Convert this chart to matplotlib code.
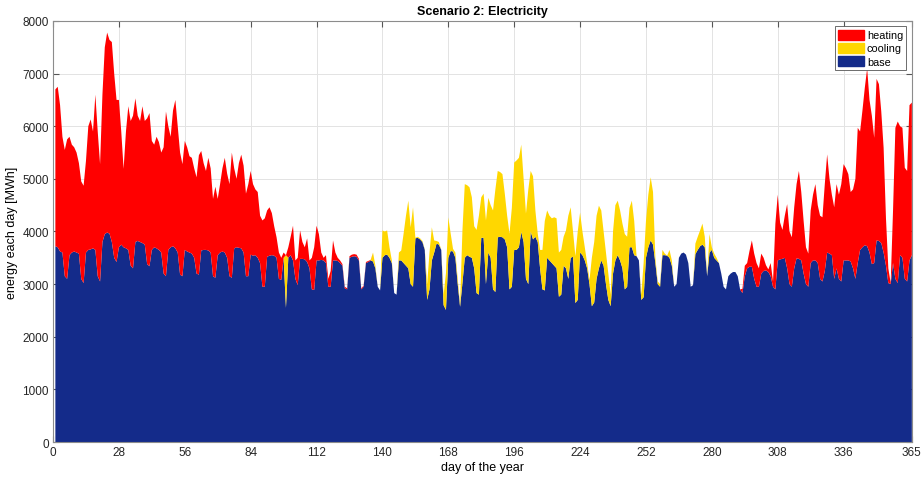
import numpy as np
import matplotlib
matplotlib.use("Agg")
import matplotlib.pyplot as plt
from matplotlib.patches import Patch

plt.rcParams['font.family'] = ['Liberation Sans', 'DejaVu Sans']

# daily base demand [MWh], one row per week (days 1..364), then day 365
base_weeks = [
    [3720, 3700, 3620, 3600, 3150, 3100, 3550],
    [3600, 3620, 3600, 3580, 3100, 3020, 3600],
    [3650, 3660, 3680, 3650, 3150, 3050, 3800],
    [3950, 3980, 3960, 3800, 3500, 3420, 3700],
    [3750, 3700, 3680, 3650, 3350, 3300, 3800],
    [3820, 3800, 3780, 3750, 3380, 3340, 3650],
    [3700, 3680, 3650, 3600, 3200, 3150, 3650],
    [3700, 3720, 3680, 3600, 3180, 3150, 3650],
    [3620, 3600, 3580, 3500, 3200, 3180, 3640],
    [3650, 3650, 3640, 3600, 3150, 3120, 3550],
    [3600, 3620, 3600, 3500, 3150, 3120, 3680],
    [3700, 3690, 3680, 3600, 3150, 3150, 3560],
    [3540, 3550, 3500, 3400, 2950, 2950, 3520],
    [3540, 3550, 3540, 3500, 3100, 3080, 3500],
    [2550, 3500, 3550, 3450, 3100, 2980, 3480],
    [3480, 3470, 3420, 3300, 2900, 2890, 3450],
    [3450, 3460, 3450, 3400, 2950, 2950, 3450],
    [3450, 3440, 3400, 3350, 2920, 2900, 3500],
    [3520, 3530, 3520, 3450, 2900, 2950, 3400],
    [3420, 3450, 3430, 3300, 2950, 2880, 3500],
    [3550, 3560, 3500, 3400, 2830, 2800, 3450],
    [3450, 3400, 3350, 3300, 3000, 2950, 3870],
    [3880, 3850, 3800, 3650, 2700, 2900, 3450],
    [3600, 3770, 3750, 3650, 2600, 2510, 3500],
    [3630, 3620, 3500, 3000, 2570, 3020, 3500],
    [3550, 3520, 3500, 3300, 2830, 2800, 3880],
    [3880, 3000, 3600, 3500, 2900, 2850, 3890],
    [3900, 3890, 3850, 3700, 2900, 2950, 3650],
    [3650, 3700, 3990, 3800, 3100, 3000, 4000],
    [3850, 3900, 3800, 3300, 2900, 2880, 3500],
    [3450, 3400, 3350, 3300, 2760, 2800, 3350],
    [3300, 3100, 3500, 3520, 2640, 2700, 3600],
    [3550, 3450, 3300, 3000, 2580, 2650, 3100],
    [3300, 3450, 3350, 3000, 2700, 2580, 3200],
    [3450, 3550, 3450, 3300, 2900, 2950, 3700],
    [3700, 3550, 3530, 3450, 2700, 2750, 3500],
    [3700, 3830, 3750, 3400, 3000, 2950, 3550],
    [3550, 3540, 3500, 3350, 2950, 3000, 3500],
    [3580, 3600, 3560, 3400, 2950, 2980, 3570],
    [3650, 3720, 3750, 3700, 3150, 3600, 3650],
    [3500, 3450, 3400, 3200, 2950, 2900, 3150],
    [3200, 3230, 3230, 3150, 2900, 2830, 3150],
    [3300, 3330, 3330, 3100, 2950, 2950, 3200],
    [3250, 3260, 3230, 3150, 2950, 2900, 3450],
    [3470, 3480, 3500, 3300, 3000, 2950, 3300],
    [3490, 3480, 3450, 3200, 3000, 2950, 3400],
    [3450, 3450, 3400, 3100, 3050, 3250, 3600],
    [3580, 3550, 3100, 3300, 3100, 3050, 3450],
    [3450, 3450, 3430, 3300, 3100, 3400, 3650],
    [3700, 3740, 3720, 3600, 3380, 3400, 3830],
    [3820, 3780, 3600, 3350, 3020, 3000, 3400],
    [3100, 3020, 3550, 3500, 3100, 3050, 3450],
]
base_last_day = [3550]

# heating demand, days 1..135
heating_spring = [
    2980, 3050, 2780, 2200, 2400, 2650, 2250,
    2050, 1980, 1900, 1720, 1850, 1850, 1740,
    2350, 2470, 2220, 2950, 2750, 2230, 2800,
    3550, 3800, 3680, 3800, 3500, 3080, 2800,
    2150, 1490, 2220, 2730, 2750, 2900, 2730,
    2380, 2300, 2600, 2350, 2770, 2910, 2070,
    1950, 2120, 2050, 1900, 2400, 3130, 2350,
    2100, 2580, 2820, 2400, 2320, 2130, 2070,
    1980, 1830, 1820, 1700, 1830, 2270, 1890,
    1650, 1500, 1760, 1600, 1470, 1730, 1070,
    1300, 1580, 1800, 1600, 1750, 2380, 1520,
    1300, 1610, 1780, 1650, 1570, 1750, 1590,
    1360, 1250, 1250, 900, 1260, 1300, 880,
    920, 800, 560, 390, 500, 420, 100,
    0, 200, 350, 660, 350, 520, 540,
    320, 230, 450, 150, 600, 810, 660,
    500, 140, 50, 150, 150, 300, 380,
    150, 60, 50, 30, 30, 20, 30,
    40, 40, 40, 30, 20, 20, 20,
    20, 10,
]

# heating demand, days 288..365
heating_autumn = [
    0, 0, 0, 0, 0, 80, 200,
    100, 300, 500, 480, 450, 350, 380,
    250, 100, 50, 250, 100, 1250, 1250,
    700, 550, 800, 1220, 1000, 940, 1160,
    1410, 1670, 1300, 1000, 700, 630, 1000,
    1250, 1450, 1100, 1200, 1220, 1650, 1865,
    1420, 1150, 1360, 1600, 1600, 1850, 1830,
    1750, 1640, 1320, 1500, 1900, 2570, 2250,
    2600, 2990, 3380, 2900, 2820, 2380, 3070,
    2980, 2500, 1990, 900, 280, 20, 1000,
    2870, 3070, 2450, 2470, 2110, 2100, 2950,
    2900,
]

# cooling demand, days 99..287
cooling_summer = [
    1000, 0, 0, 0, 0, 0, 0,
    0, 0, 0, 0, 0, 0, 0,
    0, 0, 0, 0, 0, 0, 0,
    0, 0, 0, 0, 0, 0, 0,
    0, 0, 0, 0, 0, 0, 0,
    0, 0,
    170, 50, 0, 0, 520, 450, 460,
    200, 50, 0, 0, 150, 190, 560,
    950, 1285, 1080, 1510, 10, 20, 20,
    20, 10, 300, 700, 630, 230, 50,
    50, 0, 200, 700, 770, 330, 50,
    100, 100, 50, 1000, 1400, 1330, 1320,
    1150, 800, 1200, 1500, 770, 840, 1210,
    1040, 1000, 1500, 1950, 1260, 1230, 1200,
    870, 600, 1060, 1500, 1660, 1700, 1700,
    1660, 1200, 1240, 1800, 1150, 1200, 500,
    160, 350, 750, 1320, 900, 850, 850,
    920, 950, 840, 850, 550, 720, 1200,
    960, 480, 890, 1300, 760, 450, 250,
    100, 80, 920, 1150, 1200, 1190, 950,
    650, 600, 500, 220, 800, 1050, 1035,
    950, 850, 1050, 950, 750, 885, 650,
    0, 0, 100, 650, 700, 1000, 1200,
    1000, 100, 50, 50, 100, 30, 0,
    150, 100, 0, 0, 0, 0, 0,
    0, 0, 0, 0, 200, 250, 300,
    400, 200, 0, 350, 50, 80, 50,
    0, 0, 0, 0, 0,
]

days = np.arange(1, 366)
base = np.array(sum(base_weeks, []) + base_last_day, dtype=float)
heating = np.zeros(365)
heating[0:135] = heating_spring
heating[287:365] = heating_autumn
cooling = np.zeros(365)
cooling[98:287] = cooling_summer

c_base = '#142b8a'
c_heat = '#ff0000'
c_cool = '#ffd700'

fig = plt.figure(figsize=(9.22, 4.81), dpi=100)
ax = fig.add_axes([0.0575, 0.079, 0.9315, 0.8753])
ax.stackplot(days, base, cooling, heating, colors=[c_base, c_cool, c_heat],
             linewidth=0, zorder=2)

ax.set_xlim(0, 365)
ax.set_ylim(0, 8000)
ax.set_xticks([0, 28, 56, 84, 112, 140, 168, 196, 224, 252, 280, 308, 336, 365])
ax.set_yticks(np.arange(0, 8001, 1000))
ax.set_axisbelow(True)
ax.grid(True, color='#e3e3e3', linewidth=0.7)
ax.tick_params(direction='in', top=True, right=True, labelsize=8.5,
               length=4, color='#555555', labelcolor='#262626', pad=3)
for s in ax.spines.values():
    s.set_color('#8c8c8c')
    s.set_linewidth(0.8)
    s.set_zorder(4)

ax.set_title('Scenario 2: Electricity', fontsize=9, fontweight='bold', pad=5)
ax.set_xlabel('day of the year', fontsize=9, labelpad=2)
ax.set_ylabel('energy each day [MWh]', fontsize=9, labelpad=3)

handles = [Patch(color=c_heat, label='heating'),
           Patch(color=c_cool, label='cooling'),
           Patch(color=c_base, label='base')]
leg = ax.legend(handles=handles, loc='upper right', fontsize=7.8,
                frameon=True, fancybox=False, borderpad=0.3,
                handlelength=2.4, handleheight=1.05, handletextpad=0.25,
                labelspacing=0.22, borderaxespad=0.5, framealpha=1)
leg.get_frame().set_edgecolor('#555555')
leg.get_frame().set_linewidth(0.6)
leg.set_zorder(5)

fig.savefig('out.png', dpi=100)
